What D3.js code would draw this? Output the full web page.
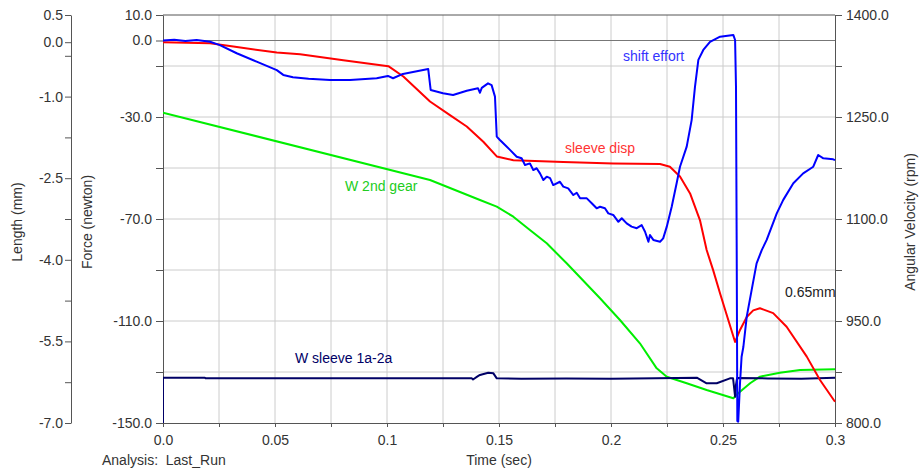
<!DOCTYPE html>
<html>
<head>
<meta charset="utf-8">
<script src="https://cdn.jsdelivr.net/npm/d3@7"></script>
<style>
body { margin: 0; background: #fff; }
text { font-family: "Liberation Sans", Arial, sans-serif; }
</style>
</head>
<body>
<svg id="chart" width="921" height="468"></svg>
<script>
// tick values / labels
var timeTicks = [0, 0.025, 0.05, 0.075, 0.1, 0.125, 0.15, 0.175, 0.2, 0.225, 0.25, 0.275, 0.3];
var timeLabels = [0, 0.05, 0.1, 0.15, 0.2, 0.25, 0.3];
var forceTicks = [10, -10, -30, -50, -70, -90, -110, -130, -150, 0];
var forceLabels = [10, 0, -30, -70, -110, -150];
var lengthTicks = [0.5, -0.25, -1, -1.75, -2.5, -3.25, -4, -4.75, -5.5, -6.25, -7, 0];
var lengthLabels = [0.5, 0, -1, -2.5, -4, -5.5, -7];
var velTicks = [1400, 1325, 1250, 1175, 1100, 1025, 950, 875, 800];
var velLabels = [1400, 1250, 1100, 950, 800];

// shift effort [time, newton]
var shiftEffort = [
  [0, 0], [0.005, 0.3], [0.01, -0.2], [0.015, 0.2], [0.021, -0.5], [0.0254, -1.8], [0.0329, -5.0],
  [0.0418, -8.3], [0.0508, -11.6], [0.0537, -13.5], [0.058, -14.4], [0.065, -15.0], [0.0746, -15.5],
  [0.0835, -15.5], [0.0954, -14.8], [0.1004, -13.9], [0.1027, -14.8], [0.1071, -13.1], [0.1184, -11.2],
  [0.1195, -19.4], [0.125, -20.7], [0.1295, -21.4], [0.1356, -19.7], [0.1406, -18.7], [0.1415, -20.5],
  [0.1423, -18.6], [0.1451, -16.8], [0.1467, -17.5], [0.1482, -22.0], [0.149, -37.7], [0.1504, -39.0],
  [0.1519, -40.3], [0.1549, -42.9], [0.1579, -45.6], [0.1601, -46.2], [0.1616, -48.8], [0.1638, -48.2],
  [0.1653, -50.8], [0.1668, -50.1], [0.1683, -52.1], [0.1698, -54.7], [0.1713, -53.4], [0.1728, -54.0],
  [0.1742, -56.7], [0.1772, -55.4], [0.1787, -57.3], [0.1809, -58.0], [0.1832, -60.6], [0.1847, -59.7],
  [0.1862, -61.9], [0.1892, -61.9], [0.1914, -63.8], [0.1936, -65.8], [0.1951, -65.2], [0.1973, -65.8],
  [0.1988, -67.8], [0.201, -68.4], [0.2033, -71.1], [0.2048, -69.7], [0.207, -71.7], [0.2092, -73.0],
  [0.2115, -73.6], [0.2137, -72.4], [0.2152, -75.0], [0.2167, -78.9], [0.2174, -76.3], [0.2189, -78.2],
  [0.2219, -78.9], [0.2233, -77.6], [0.2249, -73.0], [0.2271, -65.2], [0.2293, -56.0], [0.2308, -49.5],
  [0.2338, -41.6], [0.236, -31.2], [0.2375, -18.1], [0.239, -7.6], [0.2412, -3.7], [0.2442, -0.5],
  [0.2487, 1.5], [0.2546, 2.2], [0.2554, 0.2], [0.2558, -18.1], [0.2561, -78.2], [0.2564, -149.2],
  [0.2568, -149.5], [0.2576, -134.3], [0.2583, -124.0], [0.2591, -120.1], [0.2606, -108.3],
  [0.2628, -97.8], [0.265, -87.4], [0.2673, -82.2], [0.2695, -78.2], [0.274, -67.8], [0.2769, -62.5],
  [0.2814, -56.0], [0.2858, -52.1], [0.2903, -49.5], [0.2925, -44.9], [0.2948, -46.2], [0.2992, -46.6],
  [0.3, -46.9]
];

// sleeve disp [time, mm]
var sleeveDisp = [
  [0, 0], [0.021, -0.02], [0.0314, -0.08], [0.0508, -0.19], [0.0612, -0.22], [0.0805, -0.33],
  [0.1006, -0.44], [0.1073, -0.63], [0.1192, -1.09], [0.1281, -1.34], [0.1356, -1.55], [0.143, -1.83],
  [0.149, -2.10], [0.1564, -2.17], [0.1787, -2.20], [0.201, -2.23], [0.2219, -2.24], [0.2263, -2.29],
  [0.2308, -2.47], [0.2353, -2.78], [0.2397, -3.27], [0.2427, -3.82], [0.2456, -4.19], [0.2487, -4.62],
  [0.2554, -5.51], [0.2576, -5.29], [0.2606, -5.05], [0.2635, -4.93], [0.2665, -4.89], [0.2724, -4.98],
  [0.2784, -5.23], [0.2874, -5.78], [0.2933, -6.21], [0.3, -6.61]
];

// W 2nd gear [time, rpm]
var gear2 = [
  [0, 1256.3], [0.1192, 1157.4], [0.1415, 1127.9], [0.149, 1118.1], [0.1564, 1103.4], [0.1638, 1083.8],
  [0.1713, 1064.3], [0.1802, 1034.9], [0.1951, 983.4], [0.204, 951.5], [0.2129, 917.2], [0.2204, 880.4],
  [0.2249, 868.1], [0.2338, 858.4], [0.2427, 848.5], [0.2546, 836.3], [0.2568, 843.7], [0.2621, 858.4],
  [0.2665, 868.1], [0.2754, 873.9], [0.2844, 877.9], [0.3, 879.0]
];

// W sleeve 1a-2a [time, rpm]
var sleeveW = [
  [0, 800], [0, 866.6], [0.0187, 866.6], [0.019, 865.7], [0.1378, 865.7], [0.1384, 864.0],
  [0.1406, 869.0], [0.1415, 870.6], [0.1452, 874.0], [0.1475, 873.0], [0.149, 865.7], [0.16, 865.2],
  [0.18, 865.6], [0.2, 865.1], [0.22, 865.7], [0.2383, 866.6], [0.2427, 858.4], [0.2472, 858.4],
  [0.2531, 865.7], [0.2545, 865.7], [0.2554, 838.7], [0.2558, 856.0], [0.2563, 866.2], [0.27, 865.6],
  [0.285, 865.2], [0.3, 866.6]
];

function buildChart() {
  var svg = d3.select("#chart");
  var m = { left: 163, right: 835, top: 15, bottom: 423 };
  var fs = "14px";

  var x = d3.scaleLinear().domain([0, 0.3]).range([m.left, m.right]);
  var yF = d3.scaleLinear().domain([-150, 10]).range([m.bottom, m.top]);
  var yL = d3.scaleLinear().domain([-7, 0.5]).range([m.bottom, m.top]);
  var yW = d3.scaleLinear().domain([800, 1400]).range([m.bottom, m.top]);

  // grid
  svg.append("g").selectAll("line")
    .data(timeTicks.filter(function (d) { return d > 0 && d < 0.3; }))
    .enter().append("line")
    .attr("x1", function (d) { return x(d); }).attr("x2", function (d) { return x(d); })
    .attr("y1", m.top).attr("y2", m.bottom)
    .attr("stroke", "#cccccc").attr("stroke-width", 1);
  svg.append("g").selectAll("line")
    .data(forceTicks.filter(function (d) { return d < 10 && d > -150 && d != 0; }))
    .enter().append("line")
    .attr("x1", m.left).attr("x2", m.right)
    .attr("y1", function (d) { return yF(d); }).attr("y2", function (d) { return yF(d); })
    .attr("stroke", "#cccccc").attr("stroke-width", 1);
  // zero line and top border
  svg.append("line").attr("x1", m.left).attr("x2", m.right)
    .attr("y1", yF(0)).attr("y2", yF(0)).attr("stroke", "#777").attr("stroke-width", 1.2);
  svg.append("line").attr("x1", m.left).attr("x2", m.right)
    .attr("y1", m.top).attr("y2", m.top).attr("stroke", "#555").attr("stroke-width", 1);

  function fmt1(d) { return d.toFixed(1); }

  function styleAxis(g) {
    g.select(".domain").attr("stroke", "#555");
    g.selectAll(".tick line").attr("stroke", "#555");
    g.selectAll(".tick text").attr("fill", "#333").style("font-size", fs)
      .style("font-family", '"Liberation Sans", Arial, sans-serif');
  }

  // x axis
  var gX = svg.append("g").attr("transform", "translate(0," + m.bottom + ")")
    .call(d3.axisBottom(x).tickValues(timeTicks).tickSize(4).tickSizeOuter(0).tickPadding(8)
      .tickFormat(function (d) {
        if (d === 0) return "0.0";
        return timeLabels.indexOf(d) >= 0 ? String(+d.toFixed(3)) : "";
      }));
  styleAxis(gX);

  // force axis
  var gF = svg.append("g").attr("transform", "translate(" + m.left + ",0)")
    .call(d3.axisLeft(yF).tickValues(forceTicks).tickSize(7).tickSizeOuter(0).tickPadding(4)
      .tickFormat(function (d) { return forceLabels.indexOf(d) >= 0 ? fmt1(d) : ""; }));
  styleAxis(gF);

  // length axis
  var gL = svg.append("g").attr("transform", "translate(71,0)")
    .call(d3.axisLeft(yL).tickValues(lengthTicks).tickSize(6).tickSizeOuter(0).tickPadding(2)
      .tickFormat(function (d) { return lengthLabels.indexOf(d) >= 0 ? fmt1(d) : ""; }));
  styleAxis(gL);

  // angular velocity axis
  var gW = svg.append("g").attr("transform", "translate(" + m.right + ",0)")
    .call(d3.axisRight(yW).tickValues(velTicks).tickSize(7).tickSizeOuter(0).tickPadding(4)
      .tickFormat(function (d) { return velLabels.indexOf(d) >= 0 ? fmt1(d) : ""; }));
  styleAxis(gW);

  // axis titles
  function title(txt, tx, ty) {
    svg.append("text")
      .attr("transform", "translate(" + tx + "," + ty + ") rotate(-90)")
      .attr("text-anchor", "middle")
      .attr("fill", "#333").style("font-size", fs).text(txt);
  }
  title("Length (mm)", 22, 222);
  title("Force (newton)", 92, 222);
  title("Angular Velocity (rpm)", 915, 222);
  svg.append("text").attr("x", 499).attr("y", 465).attr("text-anchor", "middle")
    .attr("fill", "#333").style("font-size", fs).text("Time (sec)");
  svg.append("text").attr("x", 102).attr("y", 465).attr("xml:space", "preserve")
    .attr("fill", "#333").style("font-size", fs).text("Analysis:  Last_Run");

  // curves
  svg.append("clipPath").attr("id", "plotclip").append("rect")
    .attr("x", m.left).attr("y", m.top - 2)
    .attr("width", m.right - m.left + 1).attr("height", m.bottom - m.top + 3);
  var curves = svg.append("g").attr("clip-path", "url(#plotclip)");

  function drawLine(data, yScale, color) {
    var line = d3.line()
      .x(function (d) { return x(d[0]); })
      .y(function (d) { return yScale(d[1]); });
    curves.append("path").attr("d", line(data))
      .attr("fill", "none").attr("stroke", color).attr("stroke-width", 2)
      .attr("stroke-linejoin", "round");
  }
  drawLine(gear2, yW, "#00ee00");
  drawLine(sleeveW, yW, "#000066");
  drawLine(sleeveDisp, yL, "#ff0000");
  drawLine(shiftEffort, yF, "#0000ff");

  // curve labels
  function label(txt, lx, ly, color) {
    svg.append("text").attr("x", lx).attr("y", ly).attr("fill", color)
      .style("font-size", fs).text(txt);
  }
  label("shift effort", 623, 61, "#3333ff");
  label("sleeve disp", 565, 153, "#ff3333");
  label("W 2nd gear", 345, 191, "#22cc22");
  label("W sleeve 1a-2a", 295, 363, "#000066");
  label("0.65mm", 785, 297, "#222");
}

buildChart();
</script>
</body>
</html>
